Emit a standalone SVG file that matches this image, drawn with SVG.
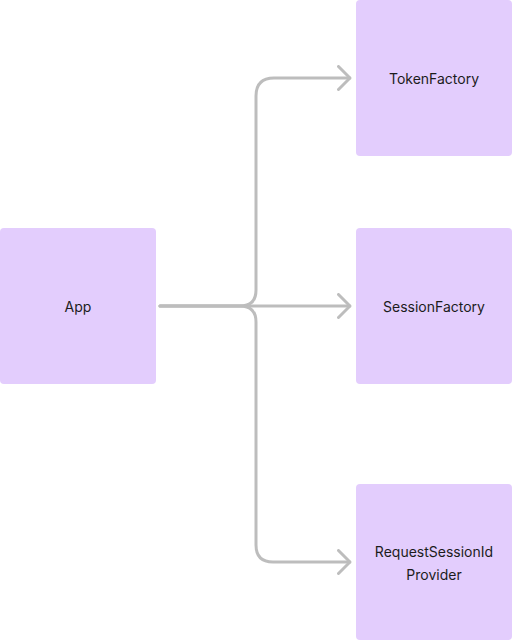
<svg xmlns="http://www.w3.org/2000/svg" width="512" height="640" viewBox="0 0 512 640">
<defs>
<style>
.node{fill:#e3cdfd;}
.lbl{font-family:Inter,"Liberation Sans",sans-serif;font-size:14px;fill:#1c1c1c;text-anchor:middle;dominant-baseline:central;}
.edge{fill:none;stroke:#bdbdbd;stroke-width:3;stroke-linecap:round;stroke-linejoin:round;}
</style>
<marker id="arr" viewBox="0 0 14 26" refX="13" refY="13" markerWidth="14" markerHeight="26" markerUnits="userSpaceOnUse" orient="auto">
<path d="M1.5,1.5 L13,13 L1.5,24.5" fill="none" stroke="#bdbdbd" stroke-width="3" stroke-linecap="round" stroke-linejoin="round"/>
</marker>
</defs>
<rect width="512" height="640" fill="#ffffff"/>
<g id="connectors">
<path class="edge" d="M160,306 L240,306 Q256,306 256,290 L256,96 Q256,78 274,78 L350,78" marker-end="url(#arr)"/>
<path class="edge" d="M160,306 L350,306" marker-end="url(#arr)"/>
<path class="edge" d="M160,306 L240,306 Q256,306 256,322 L256,545 Q256,562 273,562 L350,562" marker-end="url(#arr)"/>
</g>
<g id="app">
<rect class="node" x="0" y="228" width="156" height="156" rx="4"/>
<text class="lbl" x="78" y="306">App</text>
</g>
<g id="tokenfactory">
<rect class="node" x="356" y="0" width="156" height="156" rx="4"/>
<text class="lbl" x="434" y="78">TokenFactory</text>
</g>
<g id="sessionfactory">
<rect class="node" x="356" y="228" width="156" height="156" rx="4"/>
<text class="lbl" x="434" y="306">SessionFactory</text>
</g>
<g id="requestsessionidprovider">
<rect class="node" x="356" y="484" width="156" height="156" rx="4"/>
<text class="lbl" x="434" y="551">RequestSessionId</text>
<text class="lbl" x="434" y="574">Provider</text>
</g>
</svg>
